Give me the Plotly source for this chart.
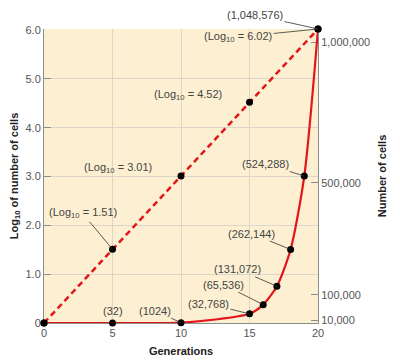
import plotly.graph_objects as go

# ---- data ----
log_gen = [0, 5, 10, 15, 20]
log_vals = [0, 1.51, 3.01, 4.52, 6.02]

cell_gen = [0, 5, 10, 15, 16, 17, 18, 19, 20]
cell_vals = [1, 32, 1024, 32768, 65536, 131072, 262144, 524288, 1048576]

x_ticks = [0, 5, 10, 15, 20]
y_ticks = [0, 1, 2, 3, 4, 5, 6]
y_ticktext = ["0", "1.0", "2.0", "3.0", "4.0", "5.0", "6.0"]
y2_ticks = [10000, 100000, 500000, 1000000]
y2_ticktext = ["10,000", "100,000", "500,000", "1,000,000"]

# annotation labels: (x, y, axis, text, ax, ay, arrow)
labels = [
    (20, 1048576, "y2", "(1,048,576)", -63, -14, True),
    (20, 6.02, "y", "(Log<sub>10</sub> = 6.02)", -80, 8, True),
    (15, 4.52, "y", "(Log<sub>10</sub> = 4.52)", -62, -7, False),
    (10, 3.01, "y", "(Log<sub>10</sub> = 3.01)", -63, -8, False),
    (5, 1.51, "y", "(Log<sub>10</sub> = 1.51)", -30, -36, True),
    (19, 524288, "y2", "(524,288)", -39, -12, True),
    (18, 262144, "y2", "(262,144)", -39, -16, True),
    (17, 131072, "y2", "(131,072)", -39, -17, True),
    (16, 65536, "y2", "(65,536)", -40, -20, True),
    (15, 32768, "y2", "(32,768)", -41, -10, True),
    (10, 1024, "y2", "(1024)", -26, -12, True),
    (5, 32, "y2", "(32)", 0, -12, False),
]

RED = "#E3151B"
GREY = "#8C8C8C"
FONT = "Arial, Liberation Sans, sans-serif"

fig = go.Figure()

fig.add_trace(go.Scatter(
    x=log_gen, y=log_vals, mode="lines+markers", yaxis="y",
    line=dict(color=RED, width=2.5, dash="6px,4px"),
    marker=dict(color="black", size=7),
    cliponaxis=False, showlegend=False, hoverinfo="skip",
))
fig.add_trace(go.Scatter(
    x=cell_gen, y=cell_vals, mode="lines+markers", yaxis="y2",
    line=dict(color=RED, width=2.2, shape="spline", smoothing=0.7),
    marker=dict(color="black", size=7),
    cliponaxis=False, showlegend=False, hoverinfo="skip",
))

annotations = []
for (x, y, ax_name, text, dx, dy, arrow) in labels:
    if arrow:
        annotations.append(dict(
            x=x, y=y, xref="x", yref=ax_name, text=text,
            showarrow=True, arrowhead=0, arrowwidth=0.8, arrowcolor="#333333",
            ax=dx, ay=dy, font=dict(family=FONT, size=11, color="#444444"),
        ))
    else:
        annotations.append(dict(
            x=x, y=y, xref="x", yref=ax_name, text=text,
            showarrow=False, xshift=dx, yshift=-dy,
            font=dict(family=FONT, size=11, color="#444444"),
        ))

fig.update_layout(
    width=392, height=354,
    margin=dict(l=36, r=82, t=21, b=39),
    paper_bgcolor="white",
    plot_bgcolor="#FDF0D2",
    font=dict(family=FONT, size=11, color="#555555"),
    annotations=annotations,
    xaxis=dict(
        range=[0, 20], tickvals=x_ticks, showgrid=True, gridcolor="#DCD6CA",
        gridwidth=1, zeroline=False, showline=True, linecolor=GREY,
        ticks="", layer="below traces",
        tickfont=dict(family=FONT, size=11, color="#555555"),
        title=dict(text="<b>Generations</b>", standoff=9,
                   font=dict(family=FONT, size=11, color="#222222")),
        automargin=False, fixedrange=True,
    ),
    yaxis=dict(
        range=[0, 6.02], tickvals=y_ticks, ticktext=y_ticktext,
        showgrid=True, gridcolor="#DCD6CA", gridwidth=1, zeroline=False,
        showline=True, linecolor=GREY, ticks="inside", ticklen=7,
        tickcolor=GREY, layer="below traces",
        tickfont=dict(family=FONT, size=11, color="#555555"),
        title=dict(text="<b>Log<sub>10</sub> of number of cells</b>", standoff=5,
                   font=dict(family=FONT, size=11, color="#222222")),
        automargin=False, fixedrange=True,
    ),
    yaxis2=dict(
        overlaying="y", side="right", range=[0, 1048576],
        tickvals=y2_ticks, ticktext=y2_ticktext, showgrid=False,
        zeroline=False, showline=True, linecolor=GREY, ticks="inside",
        ticklen=7, tickcolor=GREY, layer="below traces",
        tickfont=dict(family=FONT, size=11, color="#555555"),
        title=dict(text="<b>Number of cells</b>", standoff=9,
                   font=dict(family=FONT, size=11, color="#222222")),
        automargin=False, fixedrange=True,
    ),
)

fig.write_html("out.html")
